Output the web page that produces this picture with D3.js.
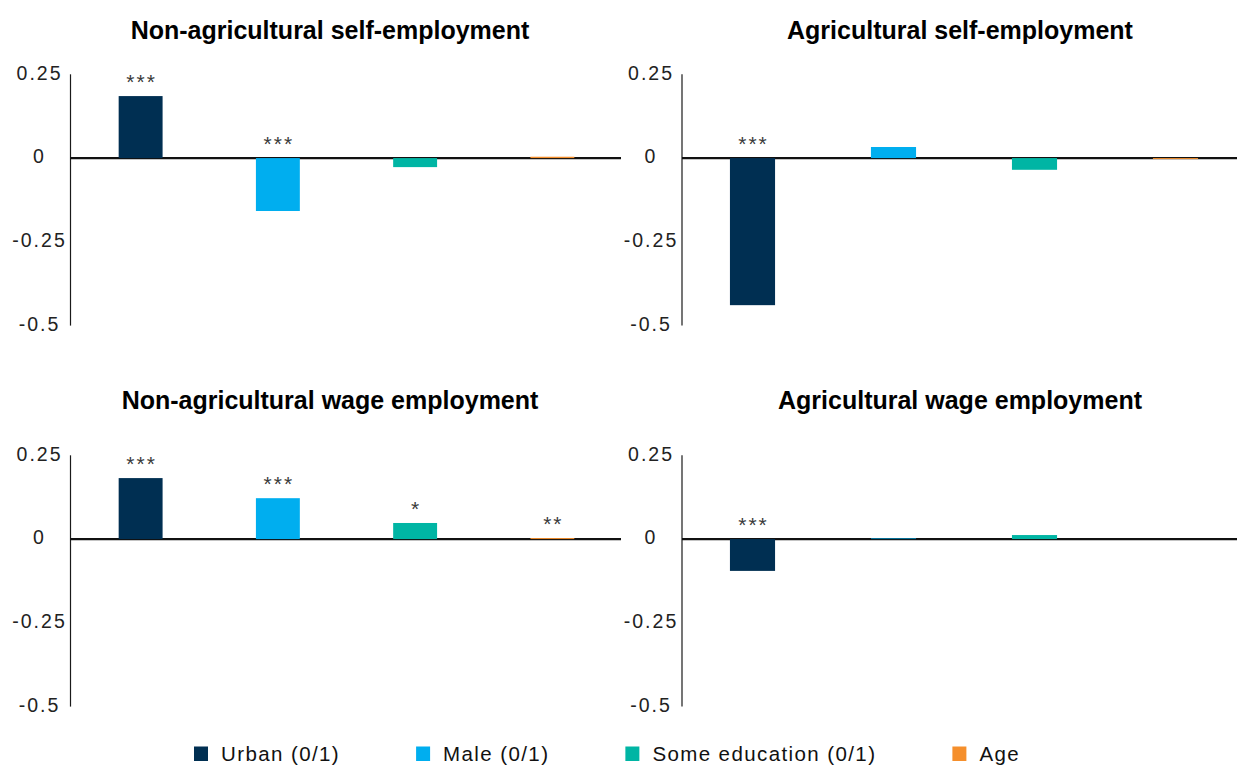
<!DOCTYPE html>
<html>
<head>
<meta charset="utf-8">
<script src="https://cdn.jsdelivr.net/npm/d3@7"></script>
<style>
  html, body { margin: 0; padding: 0; background: #fff; }
  svg { display: block; }
</style>
</head>
<body>
<svg id="chart" width="1237" height="765"></svg>
<script>
// ---------- data ----------
const categories = ["Urban (0/1)", "Male (0/1)", "Some education (0/1)", "Age"];
const panelTitles = [
  "Non-agricultural self-employment",
  "Agricultural self-employment",
  "Non-agricultural wage employment",
  "Agricultural wage employment"
];
const nonAgSelfValues = [0.185, -0.158, -0.027, 0.004];
const agSelfValues    = [-0.439, 0.033, -0.035, -0.003];
const nonAgWageValues = [0.182, 0.122, 0.048, 0.003];
const agWageValues    = [-0.095, 0.002, 0.012, 0];
const nonAgSelfStars = ["***", "***", "", ""];
const agSelfStars    = ["***", "", "", ""];
const nonAgWageStars = ["***", "***", "*", "**"];
const agWageStars    = ["***", "", "", ""];
const tickValues = [0.25, 0, -0.25, -0.5];
const tickLabels = ["0.25", "0", "-0.25", "-0.5"];
const colors = ["#002F52", "#00AEEF", "#00B5A4", "#F58F2C"];

// ---------- layout ----------
const svg = d3.select("#chart");
svg.append("rect").attr("width", 1237).attr("height", 765).attr("fill", "#fff");

const cols = [
  { axisX: 70.5, x0: 72, x1: 621, titleX: 330 },
  { axisX: 682,  x0: 682, x1: 1246, titleX: 960 }
];
const rows = [
  { top: 74.3, bottom: 325.6, titleY: 38.5 },
  { top: 455.3, bottom: 706.6, titleY: 408.5 }
];
const panels = [
  { title: panelTitles[0], values: nonAgSelfValues, stars: nonAgSelfStars, col: 0, row: 0 },
  { title: panelTitles[1], values: agSelfValues,    stars: agSelfStars,    col: 1, row: 0 },
  { title: panelTitles[2], values: nonAgWageValues, stars: nonAgWageStars, col: 0, row: 1 },
  { title: panelTitles[3], values: agWageValues,    stars: agWageStars,    col: 1, row: 1 }
];

const titleFont = "'Liberation Sans', Arial, sans-serif";
const bodyFont = "'Liberation Sans', Arial, sans-serif";

panels.forEach(p => {
  const c = cols[p.col], r = rows[p.row];
  const g = svg.append("g");
  const x = d3.scaleBand().domain(categories).range([c.x0, c.x1]).padding(0);
  const y = d3.scaleLinear().domain([-0.5, 0.25]).range([r.bottom, r.top]);
  const barW = x.bandwidth() * 0.32;

  // title
  g.append("text")
    .attr("x", c.titleX)
    .attr("y", r.titleY)
    .attr("text-anchor", "middle")
    .attr("font-family", titleFont)
    .attr("font-weight", "bold")
    .attr("font-size", 25)
    .attr("fill", "#000")
    .text(p.title);

  // y axis
  const yAxis = d3.axisLeft(y)
    .tickValues(tickValues)
    .tickSize(0)
    .tickPadding(0)
    .tickFormat((d, i) => tickLabels[i]);
  const ag = g.append("g").attr("transform", `translate(${c.axisX},0)`).call(yAxis);
  ag.select(".domain").attr("stroke", "#1a1a1a").attr("stroke-width", 1.2).attr("d", `M0,${r.top}V${r.bottom}`);
  ag.selectAll(".tick text")
    .attr("x", -32 + 1)
    .attr("dy", null)
    .attr("y", 4.8)
    .attr("text-anchor", "middle")
    .attr("font-family", bodyFont)
    .attr("font-size", 19.5)
    .attr("letter-spacing", 2)
    .attr("fill", "#222");

  // zero line
  g.append("line")
    .attr("x1", c.axisX).attr("x2", c.x1)
    .attr("y1", y(0)).attr("y2", y(0))
    .attr("stroke", "#111").attr("stroke-width", 2.2);

  // bars
  g.selectAll("rect.bar")
    .data(p.values)
    .join("rect")
    .attr("class", "bar")
    .attr("x", (d, i) => x(categories[i]) + (x.bandwidth() - barW) / 2)
    .attr("width", barW)
    .attr("y", d => y(Math.max(0, d)))
    .attr("height", d => Math.abs(y(d) - y(0)))
    .attr("fill", (d, i) => colors[i]);

  // significance stars
  g.selectAll("text.star")
    .data(p.values)
    .join("text")
    .attr("class", "star")
    .attr("x", (d, i) => x(categories[i]) + x.bandwidth() / 2 + 1)
    .attr("y", d => y(Math.max(0, d)) - 7)
    .attr("text-anchor", "middle")
    .attr("font-family", bodyFont)
    .attr("font-size", 21)
    .attr("letter-spacing", 2)
    .attr("fill", "#3a3a3a")
    .text((d, i) => p.stars[i]);
});

// ---------- legend ----------
const legend = svg.append("g");
let lx = 194;
categories.forEach((cat, i) => {
  legend.append("rect")
    .attr("x", lx).attr("y", 746.5)
    .attr("width", 14).attr("height", 14.5)
    .attr("fill", colors[i]);
  const t = legend.append("text")
    .attr("x", lx + 27).attr("y", 760.5)
    .attr("font-family", bodyFont)
    .attr("font-size", 20.5)
    .attr("letter-spacing", 1.4)
    .attr("fill", "#111")
    .text(cat);
  const w = t.node().getComputedTextLength();
  lx = lx + 27 + w + 76;
});
</script>
</body>
</html>
